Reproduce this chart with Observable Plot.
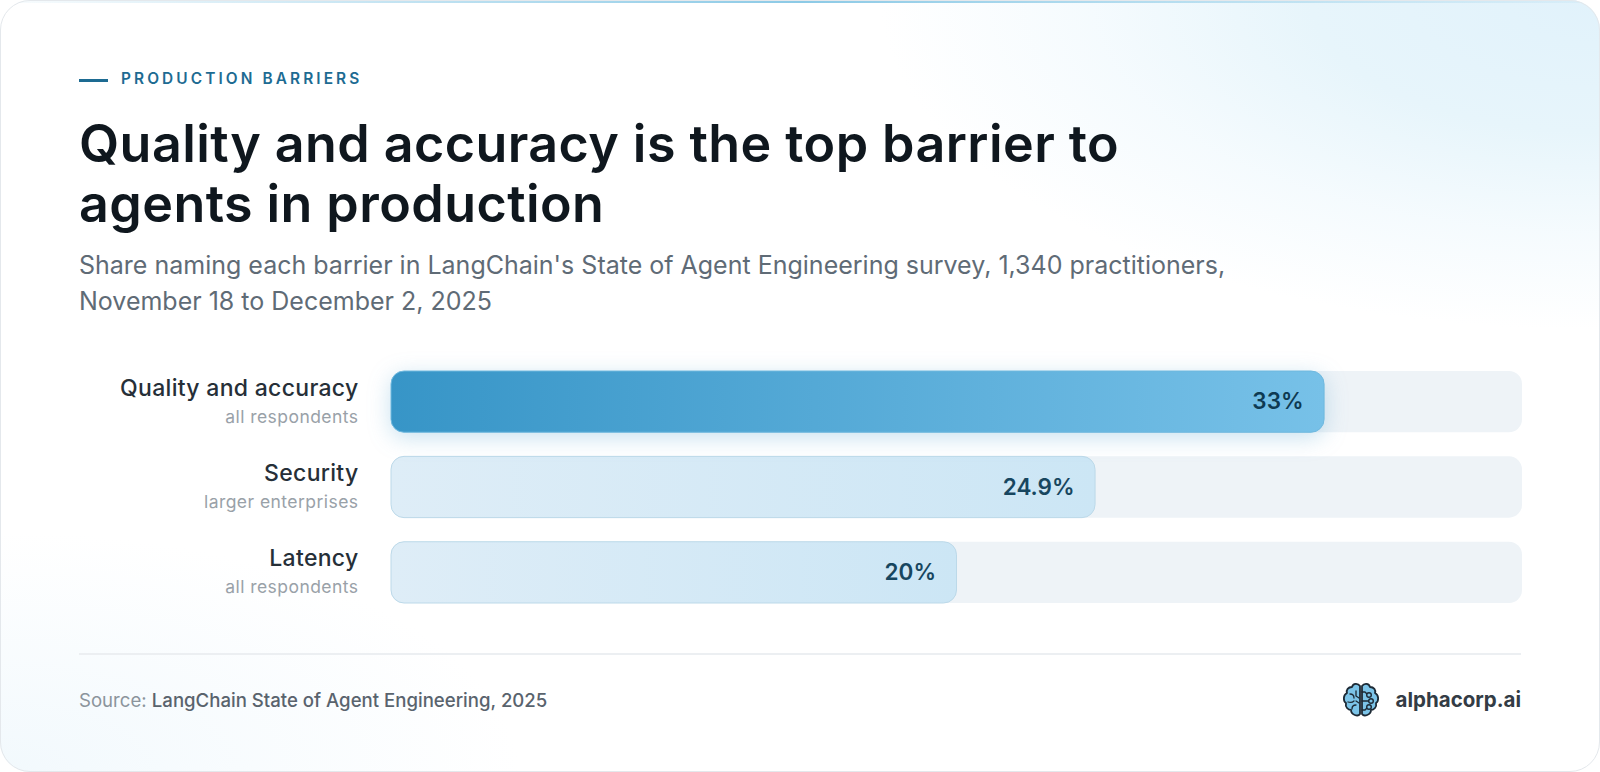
<!DOCTYPE html>
<html><head><meta charset="utf-8">
<script src="https://cdn.jsdelivr.net/npm/d3@7"></script>
<script src="https://cdn.jsdelivr.net/npm/@observablehq/plot@0.6"></script>
<style>
html,body{margin:0;padding:0;background:#fff;width:1600px;height:772px;overflow:hidden;font-family:Inter,sans-serif}
#card{position:absolute;left:0;top:0;width:1600px;height:772px;border-radius:30px;overflow:hidden;
background:
 radial-gradient(ellipse 720px 330px at 100% 0%,#e1f2fb 0%,#e7f5fb 40%,rgba(238,248,253,.6) 70%,rgba(255,255,255,0) 100%),
 radial-gradient(ellipse 520px 240px at 0% 100%,#f2f9fd 0%,rgba(255,255,255,0) 100%),#fff}
#edge{position:absolute;left:0;top:0;width:1598px;height:770px;border:1px solid #e4e8ec;border-radius:30px;pointer-events:none}
#topline{position:absolute;left:0;top:0;width:100%;height:3px;background:linear-gradient(90deg,rgba(150,205,230,.05),#8ccae6 50%,rgba(150,205,230,.1))}
.abs{position:absolute;white-space:nowrap}
#rule{left:79px;top:79px;width:29px;height:2.5px;background:#1d6b92}
#eyebrow{left:121px;top:69px;font-size:15.4px;font-weight:600;letter-spacing:3.1px;color:#1d6b92}
#title{left:79px;top:114px;font-size:52px;line-height:60px;font-weight:600;letter-spacing:.43px;color:#0f171e}
#subtitle{left:79px;top:247px;font-size:25px;line-height:36px;color:#5f6b76}
#plot{left:0;top:341px}
#footline{left:79px;top:653px;width:1442px;height:1.5px;background:#eceff2}
#source{left:79px;top:689px;font-size:18.6px;color:#8b949c}
#source b{font-weight:500;color:#59636d}
#brand{right:79px;top:687px;font-size:20.5px;font-weight:700;color:#333c45}
#logo{left:1342px;top:682px}
</style></head>
<body>
<div id="card">
<div id="topline"></div>
<div class="abs" id="rule"></div>
<div class="abs" id="eyebrow">PRODUCTION BARRIERS</div>
<div class="abs" id="title">Quality and accuracy is the top barrier to<br>agents in production</div>
<div class="abs" id="subtitle">Share naming each barrier in LangChain's State of Agent Engineering survey, 1,340 practitioners,<br>November 18 to December 2, 2025</div>
<div class="abs" id="plot"></div>
<div class="abs" id="footline"></div>
<div class="abs" id="source">Source: <b>LangChain State of Agent Engineering, 2025</b></div>
<svg class="abs" id="logo" width="38" height="38" viewBox="0 0 38 38" fill="none" stroke="#1d2a35" stroke-width="1.8" stroke-linecap="round" stroke-linejoin="round">
<path fill="#7cc4e8" d="M18 4c-2-3-7-3-8 1-4 0-6 3-5 6-4 2-4 8-1 10-1 4 2 7 5 7 0 5 7 7 9 4z"/>
<path fill="#7cc4e8" d="M20 4c2-3 7-3 8 1 4 0 6 3 5 6 4 2 4 8 1 10 1 4-2 7-5 7 0 5-7 7-9 4z"/>
<path stroke-width="1.3" d="M8 12c3 0 4 2 4 4M14 9v5l3 2M6 20c3 1 5 0 6-1M10 27c0-3 2-4 4-4M14 19l3 2"/>
<path stroke-width="1.4" d="M20 19h7M20 10h3l2 2M20 28h3l2-2"/>
<circle cx="27" cy="13" r="2.3" fill="#7cc4e8" stroke-width="1.4"/><circle cx="29" cy="19" r="2.3" fill="#7cc4e8" stroke-width="1.4"/><circle cx="27" cy="25" r="2.3" fill="#7cc4e8" stroke-width="1.4"/>
</svg>
<div class="abs" id="brand">alphacorp.ai</div>
</div>
<div id="edge"></div>
<script>
const categories = ["Quality and accuracy", "Security", "Latency"];
const groups = ["all respondents", "larger enterprises", "all respondents"];
const values = [33, 24.9, 20];
const valueLabels = ["33%", "24.9%", "20%"];
const axisMax = 40;

const rows = categories.map((c, i) => ({c, g: groups[i], v: values[i], t: valueLabels[i], i}));
const lead = rows.filter(d => d.i === 0);
const rest = rows.filter(d => d.i !== 0);
const font = "Inter, sans-serif";

const defs = () => {
  const s = d3.create("svg:defs");
  const grad = (id, a, b) => {
    const g = s.append("linearGradient").attr("id", id);
    g.append("stop").attr("offset", "0%").attr("stop-color", a);
    g.append("stop").attr("offset", "100%").attr("stop-color", b);
  };
  grad("gradLead", "#3795c7", "#77c1e8");
  grad("gradRest", "#deedf7", "#cce6f5");
  return s.node();
};

const chart = Plot.plot({
  width: 1600, height: 290,
  marginLeft: 391, marginRight: 78, marginTop: 30, marginBottom: 28,
  style: {background: "transparent", overflow: "visible", fontFamily: font},
  x: {domain: [0, axisMax], axis: null},
  y: {domain: categories, axis: null, padding: 0.2824, paddingOuter: 0, round: false},
  marks: [
    defs,
    Plot.barX(rows, {x1: 0, x2: axisMax, y: "c", fill: "#eef3f7", rx: 13}),
    Plot.barX(rest, {x1: 0, x2: "v", y: "c", fill: "url(#gradRest)", stroke: "#bcd9e9", strokeWidth: 1, rx: 13}),
    Plot.barX(lead, {x1: 0, x2: "v", y: "c", fill: "url(#gradLead)", stroke: "#6fb8de", strokeWidth: 1, rx: 13}),
    Plot.text(rows, {x: "v", y: "c", text: "t", dx: -21, dy: 0, textAnchor: "end", fontSize: 22.5, fontWeight: 600,
      fill: d => d.i === 0 ? "#0e3a52" : "#17465f"}),
    Plot.text(rows, {x: 0, y: "c", text: "c", dx: -33, dy: -14, textAnchor: "end", fontSize: 23, fontWeight: 500, fill: "#262f38"}),
    Plot.text(rows, {x: 0, y: "c", text: "g", dx: -33, dy: 15, textAnchor: "end", fontSize: 17.5, fill: "#99a1a8"})
  ],
  color: {type: "identity"}
});
const leadBar = chart.querySelector('[fill="url(#gradLead)"]');
if (leadBar) leadBar.style.filter = "drop-shadow(0 5px 11px rgba(60,150,200,.28))";
chart.querySelectorAll('[fill="#99a1a8"]').forEach(n => n.style.letterSpacing = "0.45px");
chart.querySelectorAll('[fill="#262f38"]').forEach(n => n.style.letterSpacing = "0.3px");
document.getElementById("plot").appendChild(chart);
</script>
</body></html>
